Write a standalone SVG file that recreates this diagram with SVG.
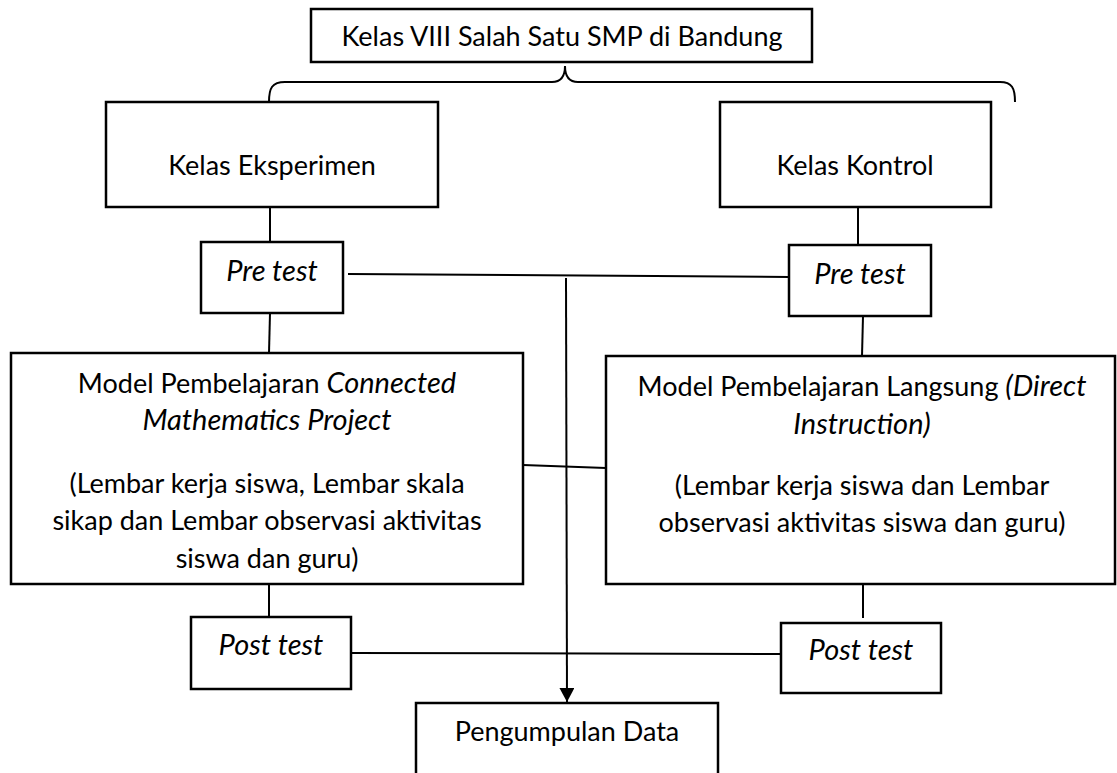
<svg xmlns="http://www.w3.org/2000/svg" width="1117" height="773" viewBox="0 0 1117 773">
<style>
.box{fill:#fff;stroke:#000;stroke-width:2.5}
.t{font-family:Lato,"Open Sans","DejaVu Sans",sans-serif;font-size:27px;fill:#000;text-anchor:middle}
.i{font-style:italic;font-size:29px}
.c{fill:none;stroke:#000;stroke-width:2}
</style>
<defs>
<marker id="ah" markerUnits="userSpaceOnUse" markerWidth="16" markerHeight="16" refX="14" refY="7.5" orient="auto">
<path d="M0,0 L14,7.5 L0,15 Z" fill="#000"/>
</marker>
</defs>
<g id="connectors">
<path class="c" d="M269 102 C269 88 272 82 285 82 L552 82 C561 82 565 77 565 66 C565 77 569 82 578 82 L1000 82 C1012 82 1015 88 1015 102"/>
<line class="c" x1="270" y1="207" x2="270" y2="242"/>
<line class="c" x1="858" y1="207" x2="858" y2="245"/>
<line class="c" x1="348" y1="274" x2="789" y2="277"/>
<line class="c" x1="270" y1="313" x2="269" y2="353"/>
<line class="c" x1="863" y1="316" x2="862" y2="356"/>
<line class="c" x1="523" y1="465" x2="606" y2="468"/>
<line class="c" x1="269" y1="584" x2="269" y2="617"/>
<line class="c" x1="863" y1="584" x2="863" y2="618"/>
<line class="c" x1="351" y1="653" x2="781" y2="654"/>
<line class="c" x1="566" y1="278" x2="567" y2="702" marker-end="url(#ah)"/>
</g>
<g id="top">
<rect class="box" x="311" y="9" width="501" height="53"/>
<text class="t" x="562" y="46">Kelas VIII Salah Satu SMP di Bandung</text>
</g>
<g id="eksperimen">
<rect class="box" x="106" y="102" width="332" height="105"/>
<text class="t" x="272" y="175">Kelas Eksperimen</text>
</g>
<g id="kontrol">
<rect class="box" x="720" y="102" width="271" height="105"/>
<text class="t" x="855" y="175">Kelas Kontrol</text>
</g>
<g id="pretest-e">
<rect class="box" x="201" y="242" width="142" height="71"/>
<text class="t i" x="272" y="281">Pre test</text>
</g>
<g id="pretest-k">
<rect class="box" x="789" y="245" width="142" height="71"/>
<text class="t i" x="860" y="284">Pre test</text>
</g>
<g id="model-cmp">
<rect class="box" x="11" y="353" width="512" height="231"/>
<text class="t" x="267" y="393">Model Pembelajaran <tspan class="i">Connected</tspan></text>
<text class="t i" x="267" y="430">Mathematics Project</text>
<text class="t" x="267" y="493">(Lembar kerja siswa, Lembar skala</text>
<text class="t" x="267" y="530">sikap dan Lembar observasi aktivitas</text>
<text class="t" x="267" y="568">siswa dan guru)</text>
</g>
<g id="model-di">
<rect class="box" x="606" y="356" width="509" height="228"/>
<text class="t" x="862" y="396">Model Pembelajaran Langsung <tspan class="i">(Direct</tspan></text>
<text class="t i" x="862" y="434">Instruction)</text>
<text class="t" x="862" y="495">(Lembar kerja siswa dan Lembar</text>
<text class="t" x="862" y="532">observasi aktivitas siswa dan guru)</text>
</g>
<g id="posttest-e">
<rect class="box" x="191" y="617" width="160" height="72"/>
<text class="t i" x="271" y="655">Post test</text>
</g>
<g id="posttest-k">
<rect class="box" x="781" y="623" width="160" height="70"/>
<text class="t i" x="861" y="660">Post test</text>
</g>
<g id="pengumpulan">
<rect class="box" x="416" y="703" width="302" height="80"/>
<text class="t" x="567" y="741">Pengumpulan Data</text>
</g>
</svg>
